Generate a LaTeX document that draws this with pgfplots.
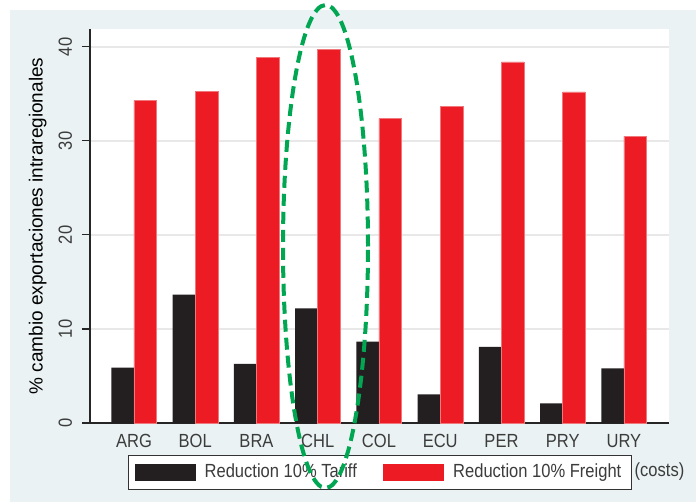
\documentclass[border=0pt]{standalone}
\usepackage{fontspec}
\setmainfont{Liberation Sans}
\newfontfamily\narrowfont{Liberation Sans}[FakeStretch=0.87]
\usepackage{pgfplots}
\pgfplotsset{compat=1.18}
\definecolor{bgblue}{RGB}{234,242,243}
\definecolor{barred}{RGB}{237,28,36}
\definecolor{barblack}{RGB}{35,31,32}
\definecolor{elgreen}{RGB}{0,166,81}
\definecolor{txtgray}{RGB}{60,60,60}
\newcommand\tickfont{\narrowfont\fontsize{9.5pt}{11pt}\selectfont}
\newcommand\labfont{\fontsize{9.5pt}{11pt}\selectfont}
\begin{document}
\begin{tikzpicture}
\fill[white] (0pt,0pt) rectangle (348pt,-251pt);
\fill[bgblue] (5pt,-5pt) rectangle (348pt,-251pt);
\begin{axis}[
  at={(45pt,-211.5pt)}, anchor=south west,
  scale only axis, width=289.5pt, height=197pt,
  axis background/.style={fill=white},
  xmin=-0.718, xmax=8.735, ymin=0, ymax=41.9,
  ybar=0pt, bar width=11.3pt,
  axis x line*=bottom, axis y line*=left,
  axis line style={-, draw=black!85, line width=0.55pt},
  xtick={0,...,8}, xticklabels={ARG,BOL,BRA,CHL,COL,ECU,PER,PRY,URY},
  ytick={0,10,20,30,40},
  major x tick style={draw=none},
  tick align=outside, major tick length=4pt,
  major y tick style={draw=black!85, line width=0.55pt},
  ymajorgrids, major grid style={draw=black!9, line width=0.7pt},
  /pgf/number format/assume math mode=true,
  tick label style={font=\tickfont, text=txtgray},
  yticklabel style={xshift=-1.5pt, rotate=90, anchor=south},
  xticklabel style={anchor=north, inner sep=0pt, yshift=-1.5pt},
  ylabel={\% cambio exportaciones intraregionales},
  every axis y label/.style={at={(rel axis cs:-0.0817,0.5)}, rotate=90, anchor=base, font=\labfont},
  legend style={at={(rel axis cs:0.5009,-0.1256)}, anchor=center, legend columns=2,
    draw=black!80, line width=0.5pt, fill=white, font=\tickfont, text=txtgray,
    inner xsep=3pt, inner ysep=2.5pt,
    /tikz/every even column/.append style={column sep=11pt}},
  legend image code/.code={\draw[#1,draw=none] (0pt,-4.25pt) rectangle (30.5pt,4.25pt); \path (33pt,0pt);},
]
\addplot[fill=barblack, draw=none] coordinates {(0,5.9) (1,13.65) (2,6.3) (3,12.2) (4,8.65) (5,3.05) (6,8.1) (7,2.1) (8,5.8)};
\addplot[fill=barred, draw={rgb,255:red,240;green,120;blue,125}, line width=0.3pt] coordinates {(0,34.3) (1,35.3) (2,38.9) (3,39.7) (4,32.4) (5,33.7) (6,38.4) (7,35.2) (8,30.5)};
\legend{Reduction 10\% Tariff, Reduction 10\% Freight}
\end{axis}
\node[font=\tickfont, text=txtgray, anchor=center] at (329.75pt,-236pt) {(costs)};
\draw[elgreen, line width=2pt, dash pattern=on 6pt off 3pt] (162.75pt,-123.25pt) ellipse [x radius=21.25pt, y radius=120.75pt];
\end{tikzpicture}
\end{document}
